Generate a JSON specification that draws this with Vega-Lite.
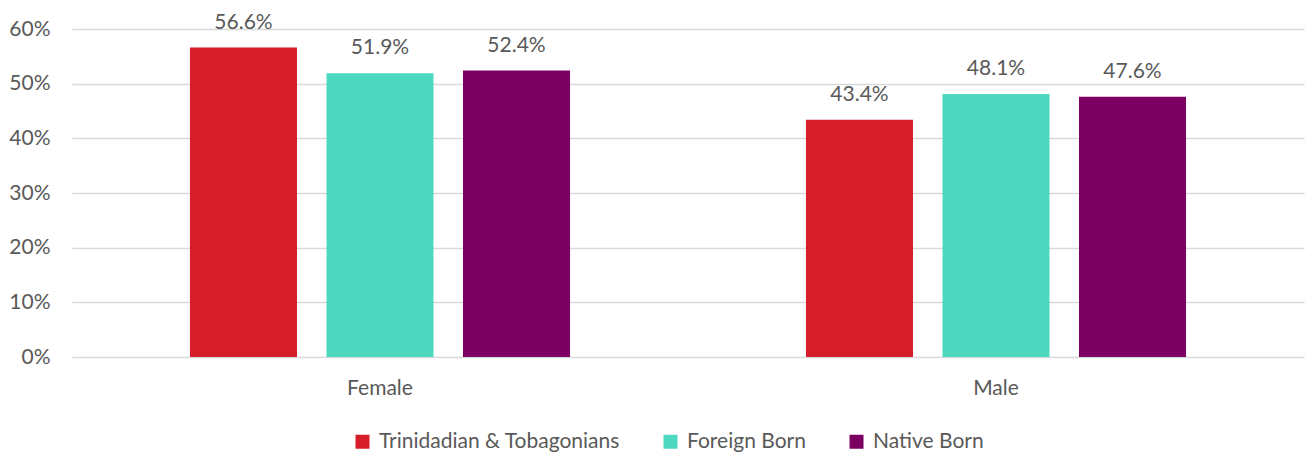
{
  "$schema": "https://vega.github.io/schema/vega-lite/v6.json",
  "width": 1232,
  "height": 328,
  "autosize": {"type": "none"},
  "padding": {"left": 72, "top": 29, "right": 3, "bottom": 99},
  "background": "white",
  "config": {
    "font": "Lato",
    "view": {"stroke": null}
  },
  "data": {
    "values": [
      {"sex": "Female", "group": "Trinidadian & Tobagonians", "value": 0.566},
      {"sex": "Female", "group": "Foreign Born", "value": 0.519},
      {"sex": "Female", "group": "Native Born", "value": 0.524},
      {"sex": "Male", "group": "Trinidadian & Tobagonians", "value": 0.434},
      {"sex": "Male", "group": "Foreign Born", "value": 0.481},
      {"sex": "Male", "group": "Native Born", "value": 0.476}
    ]
  },
  "encoding": {
    "x": {
      "field": "sex", "type": "nominal",
      "scale": {"paddingInner": 0, "paddingOuter": 0},
      "axis": {"title": null, "labelAngle": 0, "ticks": false, "domain": false, "labelPadding": 20, "labelFontSize": 21, "labelColor": "#595959", "labelFont": "Lato"}
    },
    "xOffset": {
      "field": "group", "type": "nominal",
      "sort": ["Trinidadian & Tobagonians", "Foreign Born", "Native Born"],
      "scale": {"paddingInner": 0.216, "paddingOuter": 0.864}
    },
    "y": {
      "field": "value", "type": "quantitative",
      "scale": {"domain": [0, 0.6], "nice": false},
      "axis": {"title": null, "format": ".0%", "values": [0, 0.1, 0.2, 0.3, 0.4, 0.5, 0.6], "labelOverlap": false, "ticks": false, "domain": false, "labelPadding": 22, "labelFontSize": 21, "labelColor": "#595959", "labelFont": "Lato", "gridColor": "#d9d9d9", "gridWidth": 1.3}
    }
  },
  "layer": [
    {
      "mark": {"type": "bar"},
      "encoding": {
        "color": {
          "field": "group", "type": "nominal",
          "sort": ["Trinidadian & Tobagonians", "Foreign Born", "Native Born"],
          "scale": {"domain": ["Trinidadian & Tobagonians", "Foreign Born", "Native Born"], "range": ["#D51E29", "#4DD8C0", "#7B0062"]},
          "legend": {
            "title": null, "orient": "none", "legendX": 280, "legendY": 402, "direction": "horizontal",
            "symbolType": "square", "symbolSize": 196, "symbolStrokeWidth": 0,
            "labelFontSize": 21, "labelColor": "#595959", "labelFont": "Lato", "labelLimit": 500,
            "columnPadding": 40, "labelOffset": 6
          }
        }
      }
    },
    {
      "mark": {"type": "text", "baseline": "alphabetic", "dy": -19, "fontSize": 21, "color": "#595959", "font": "Lato"},
      "encoding": {
        "text": {"field": "value", "type": "quantitative", "format": ".1%"}
      }
    }
  ]
}
